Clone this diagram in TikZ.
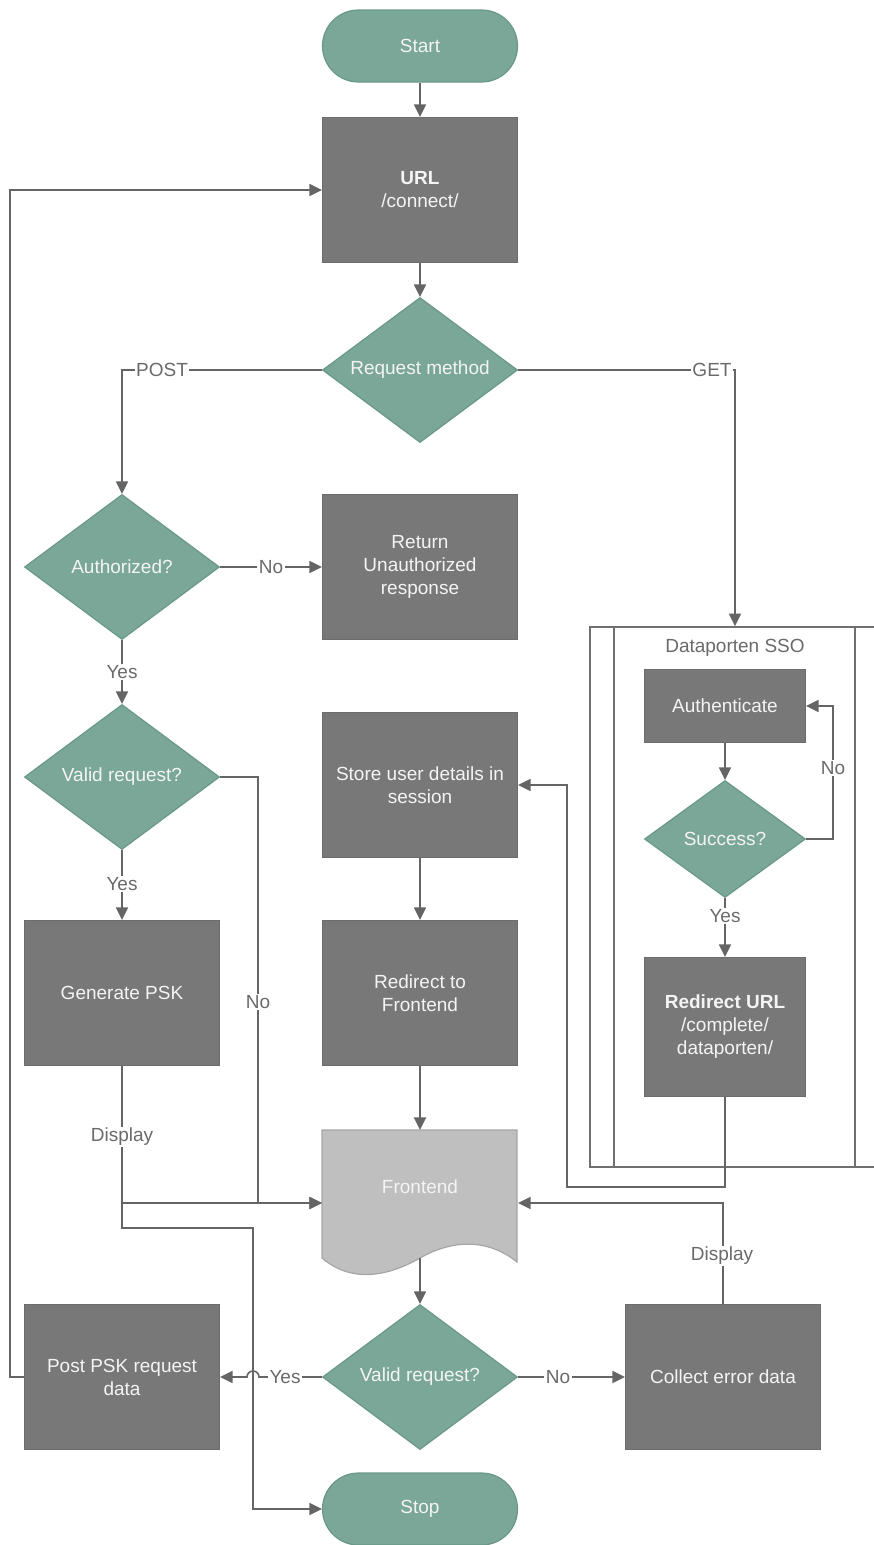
\documentclass[tikz,border=0pt]{standalone}
\usepackage{fontspec}
\setmainfont{Liberation Sans}
\usetikzlibrary{shapes.geometric,arrows.meta}

\definecolor{tealfill}{HTML}{7AA798}
\definecolor{tealedge}{HTML}{6A9888}
\definecolor{boxfill}{HTML}{787878}
\definecolor{boxedge}{HTML}{6C6C6C}
\definecolor{docfill}{HTML}{BFBFBF}
\definecolor{docedge}{HTML}{A6A6A6}
\definecolor{wiregray}{HTML}{656565}
\definecolor{labelgray}{HTML}{6A6A6A}
\definecolor{pooledge}{HTML}{707070}
\definecolor{boxtext}{HTML}{F4F4F4}

\begin{document}
\begin{tikzpicture}[x=1pt,y=-1pt,
  txt/.style={font=\fontsize{19}{23}\selectfont},
  base/.style={txt, text=boxtext, align=center, line width=1.2pt},
  process/.style={base, rectangle, fill=boxfill, draw=boxedge,
    minimum width=195pt, minimum height=145pt, inner sep=2pt},
  decision/.style={base, diamond, aspect=1.34, fill=tealfill, draw=tealedge,
    minimum width=195pt, minimum height=145pt, inner sep=0pt},
  terminal/.style={base, rectangle, rounded corners=36pt, fill=tealfill,
    draw=tealedge, minimum width=195pt, minimum height=72pt},
  conn/.style={draw=wiregray, line width=1.6pt,
    -{Triangle[length=12.5pt,width=12pt]}},
  lbl/.style={txt, text=labelgray, fill=white, inner sep=1.5pt}
]
\useasboundingbox (0,0) rectangle (874,1545);

% ---------- Dataporten SSO pool ----------
\node[draw=pooledge, line width=1.6pt, rectangle, minimum width=294pt,
  minimum height=540pt, inner sep=0pt] (sso) at (737,897) {};
\draw[draw=pooledge, line width=1.6pt] (614,627) -- (614,1167);
\draw[draw=pooledge, line width=1.6pt] (855,627) -- (855,1167);
\node[txt, text=labelgray] (ssotitle) at (735,648) {Dataporten SSO};

% ---------- Frontend document shape ----------
\path[fill=docfill, draw=docedge, line width=1.2pt]
  (322,1130) -- (517,1130) -- (517,1262)
  .. controls (490,1240) and (455,1238) .. (420,1258)
  .. controls (385,1278) and (350,1282) .. (322,1258) -- cycle;

% ---------- Nodes ----------
\node[terminal] (start) at (420,46) {Start};
\node[process] (url) at (420,190) {\textbf{URL}\\/connect/};
\node[decision] (method) at (420,370) {Request method};
\node[decision] (auth) at (122,567) {Authorized?};
\node[process] (unauth) at (420,567) {Return\\Unauthorized\\response};
\node[decision] (valid1) at (122,777) {Valid request?};
\node[process] (store) at (420,785) {Store user details in\\session};
\node[process] (genpsk) at (122,993) {Generate PSK};
\node[process] (redir) at (420,993) {Redirect to\\Frontend};
\node[base, rectangle, minimum width=195pt, minimum height=145pt,
  inner sep=0pt, text height=14pt, text depth=34pt] (frontend) at (420,1203) {Frontend};
\node[decision] (valid2) at (420,1377) {Valid request?};
\node[process] (postpsk) at (122,1377) {Post PSK request\\data};
\node[process] (collect) at (723,1377) {Collect error data};
\node[terminal] (stop) at (420,1509) {Stop};

\node[process, minimum width=161pt, minimum height=73pt] (authn) at (725,706) {Authenticate};
\node[decision, aspect=1.38, minimum width=161pt, minimum height=117pt] (success) at (725,839) {Success?};
\node[process, minimum width=161pt, minimum height=139pt] (redurl) at (725,1027)
  {\textbf{Redirect URL}\\/complete/\\dataporten/};

% ---------- Connectors ----------
\draw[conn] (start) -- (url);
\draw[conn] (url) -- (method);
\draw[conn] (method.west) -- (122,370) -- (auth.north);
\draw[conn] (method.east) -- (735,370) -- (735,0 |- sso.north);
\draw[conn] (auth.east) -- (unauth.west);
\draw[conn] (auth.south) -- (valid1.north);
\draw[conn] (valid1.south) -- (genpsk.north);
\draw[conn] (valid1.east) -- (258,777) -- (258,1203) -- (frontend.west);
\draw[conn] (genpsk.south) -- (122,1203) -- (frontend.west);
\draw[conn] (genpsk.south) -- (122,1228) -- (253,1228) -- (253,1509) -- (stop.west);
\draw[conn] (store) -- (redir);
\draw[conn] (redir.south) -- (frontend.north);
\draw[conn] (420,1258) -- (valid2.north);
\draw[conn] (valid2.east) -- (collect.west);
\draw[conn] (collect.north) -- (723,1203) -- (frontend.east);
\draw[conn] (valid2.west) -- (259,1377)
  arc[start angle=0, end angle=180, radius=6pt] -- (postpsk.east);
\draw[conn] (postpsk.west) -- (10,1377) -- (10,190) -- (url.west);

\draw[conn] (authn) -- (success);
\draw[conn] (success.east) -- (833,839) -- (833,706) -- (authn.east);
\draw[conn] (success.south) -- (redurl.north);
\draw[conn] (redurl.south) -- (725,1187) -- (567,1187) -- (567,785) -- (store.east);

% ---------- Connector labels ----------
\node[lbl] (lpost) at (162,370) {POST};
\node[lbl] (lget) at (712,370) {GET};
\node[lbl] (lauthno) at (271,567) {No};
\node[lbl] (lauthyes) at (122,672) {Yes};
\node[lbl] (lvalidyes) at (122,884) {Yes};
\node[lbl] (lvalidno) at (258,1002) {No};
\node[lbl] (ldisp1) at (122,1137) {Display};
\node[lbl] (ldisp2) at (722,1256) {Display};
\node[lbl] (lyes2) at (285,1377) {Yes};
\node[lbl] (lno2) at (558,1377) {No};
\node[lbl] (lssoyes) at (725,916) {Yes};
\node[lbl] (lssono) at (833,768) {No};
\end{tikzpicture}
\end{document}
